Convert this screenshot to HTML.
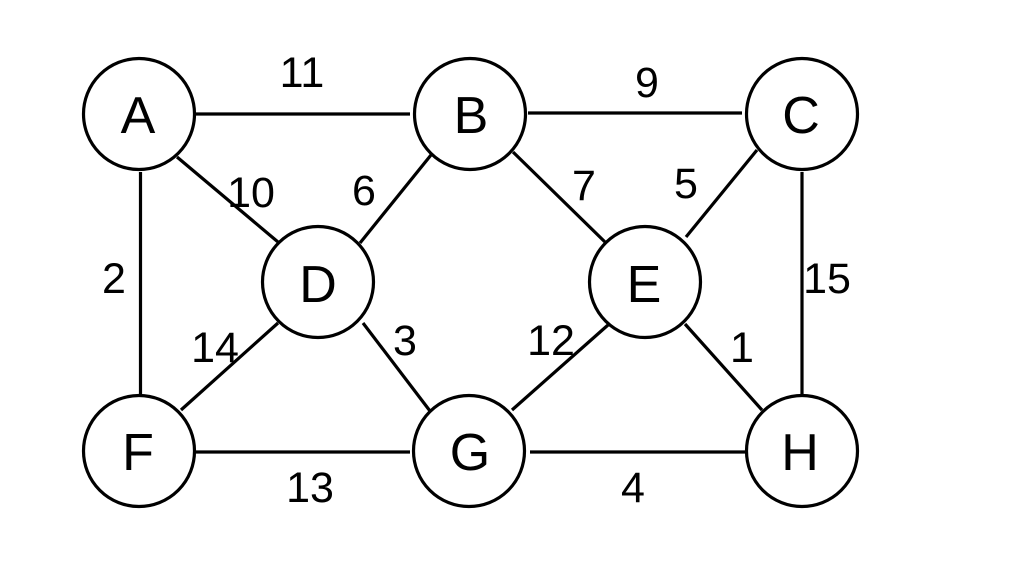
<!DOCTYPE html>
<html>
<head>
<meta charset="utf-8">
<style>
  html, body { margin: 0; padding: 0; background: #ffffff; }
  body { width: 1024px; height: 577px; overflow: hidden; }
  svg { display: block; }
  .n { font-family: "Liberation Sans", sans-serif; font-size: 52px; fill: #000; text-anchor: middle; }
  .w { font-family: "Liberation Sans", sans-serif; font-size: 43px; fill: #000; text-anchor: middle; }
</style>
</head>
<body>
<svg width="1024" height="577" viewBox="0 0 1024 577" xmlns="http://www.w3.org/2000/svg">
  <rect width="1024" height="577" fill="#ffffff"/>
  <g stroke="#000" stroke-width="3.2" fill="none">
    <!-- horizontal edges -->
    <line x1="196" y1="114" x2="410" y2="114"/>
    <line x1="528" y1="113" x2="742" y2="113"/>
    <line x1="196" y1="452" x2="410" y2="452"/>
    <line x1="530" y1="452" x2="747" y2="452"/>
    <!-- vertical edges -->
    <line x1="140.5" y1="172" x2="140.5" y2="394"/>
    <line x1="802" y1="172" x2="802" y2="394"/>
    <!-- diagonals -->
    <line x1="177" y1="157" x2="278" y2="242"/>
    <line x1="360" y1="243" x2="431" y2="155"/>
    <line x1="513" y1="152" x2="605" y2="242"/>
    <line x1="686" y1="237" x2="757" y2="150"/>
    <line x1="278" y1="323" x2="181" y2="410"/>
    <line x1="363" y1="323" x2="430" y2="411"/>
    <line x1="608" y1="325" x2="512" y2="410"/>
    <line x1="685" y1="324" x2="762" y2="410"/>
    <!-- nodes -->
    <circle cx="139" cy="114" r="55.5" fill="#fff"/>
    <circle cx="470" cy="114" r="55.5" fill="#fff"/>
    <circle cx="802" cy="114" r="55.5" fill="#fff"/>
    <circle cx="318" cy="282" r="55.5" fill="#fff"/>
    <circle cx="645" cy="282" r="55.5" fill="#fff"/>
    <circle cx="139" cy="451" r="55.5" fill="#fff"/>
    <circle cx="469" cy="451" r="55.5" fill="#fff"/>
    <circle cx="802" cy="451" r="55.5" fill="#fff"/>
  </g>
  <!-- node labels -->
  <text class="n" x="138" y="133">A</text>
  <text class="n" x="471" y="133">B</text>
  <text class="n" x="801" y="133">C</text>
  <text class="n" x="318" y="302">D</text>
  <text class="n" x="644" y="302">E</text>
  <text class="n" x="138" y="470">F</text>
  <text class="n" x="470" y="470">G</text>
  <text class="n" x="800" y="470">H</text>
  <!-- weights -->
  <text class="w" x="302" y="87">11</text>
  <text class="w" x="647" y="97">9</text>
  <text class="w" x="251" y="207">10</text>
  <text class="w" x="364" y="205">6</text>
  <text class="w" x="584" y="200">7</text>
  <text class="w" x="686" y="198">5</text>
  <text class="w" x="114" y="293">2</text>
  <text class="w" x="827" y="293">15</text>
  <text class="w" x="215" y="362">14</text>
  <text class="w" x="405" y="355">3</text>
  <text class="w" x="551" y="355">12</text>
  <text class="w" x="742" y="362">1</text>
  <text class="w" x="310" y="502">13</text>
  <text class="w" x="633" y="502">4</text>
</svg>
</body>
</html>
